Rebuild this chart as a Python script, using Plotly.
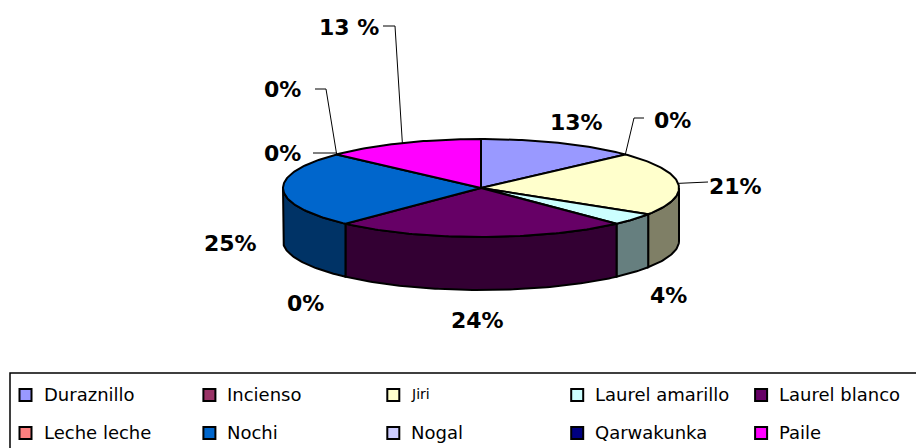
import numpy as np
import plotly.graph_objects as go

# ---------------- data ----------------
species = ["Duraznillo", "Incienso", "Jiri", "Laurel amarillo", "Laurel blanco",
           "Leche leche", "Nochi", "Nogal", "Qarwakunka", "Paile"]
percent = [13, 0, 21, 4, 24, 0, 25, 0, 0, 13]
label_text = ["13%", "0%", "21%", "4%", "24%", "0%", "25%", "0%", "0%", "13 %"]
top_colors = ["#9999FF", "#993366", "#FFFFCC", "#CCFFFF", "#660066",
              "#FF8080", "#0066CC", "#CCCCFF", "#000080", "#FF00FF"]

# ---------------- layout / style ----------------
W, H = 916, 448
CX, CY, RX, RY, DEPTH = 481, 188, 198, 49, 53
label_pos = [(576, 122), (672, 120), (735, 186), (668, 295), (477, 320),
             (305, 303), (230, 243), (282, 153), (282, 89), (349, 27)]
# leader line elbows (label side), None = no leader
leader_elbows = [None, [(644, 118), (634, 118)], [(708, 182)], None, None,
                 None, None, [(313, 153), (337, 153)], [(315, 89), (326, 89)],
                 [(383, 26), (395, 26)]]
LABEL_FONT = dict(family="DejaVu Sans", size=22, color="black", weight="bold")
LEG_FONT = dict(family="DejaVu Sans", size=18, color="black")


def darker(hexcol):
    h = hexcol.lstrip("#")
    r, g, b = (int(h[i:i + 2], 16) // 2 for i in (0, 2, 4))
    return f"#{r:02X}{g:02X}{b:02X}"


def rim(theta_deg, dy=0.0):
    t = np.radians(theta_deg)
    return CX + RX * np.sin(t), CY - RY * np.cos(t) + dy


total = float(sum(percent))
starts = np.concatenate([[0.0], np.cumsum(percent)[:-1]]) / total * 360.0
ends = np.cumsum(percent) / total * 360.0

fig = go.Figure()

# side walls (front half only)
for i, (a0, a1) in enumerate(zip(starts, ends)):
    if percent[i] == 0:
        continue
    s0, s1 = max(a0, 90.0), min(a1, 270.0)
    if s1 <= s0:
        continue
    th = np.linspace(s0, s1, int(s1 - s0) + 2)
    xt, yt = rim(th)
    xb, yb = rim(th[::-1], DEPTH)
    fig.add_trace(go.Scatter(
        x=np.concatenate([xt, xb, xt[:1]]), y=np.concatenate([yt, yb, yt[:1]]),
        mode="lines", fill="toself", fillcolor=darker(top_colors[i]),
        line=dict(color="black", width=2), hoverinfo="skip", showlegend=False))

# top faces
for i, (a0, a1) in enumerate(zip(starts, ends)):
    if percent[i] == 0:
        continue
    th = np.linspace(a0, a1, int(a1 - a0) + 2)
    xt, yt = rim(th)
    fig.add_trace(go.Scatter(
        x=np.concatenate([[CX], xt, [CX]]), y=np.concatenate([[CY], yt, [CY]]),
        mode="lines", fill="toself", fillcolor=top_colors[i],
        line=dict(color="black", width=2), hoverinfo="skip", showlegend=False,
        name=species[i]))

# leader lines + labels
for i in range(len(species)):
    mid = (starts[i] + ends[i]) / 2.0
    if leader_elbows[i] is not None:
        px, py = rim(mid)
        xs = [p[0] for p in leader_elbows[i]] + [px]
        ys = [p[1] for p in leader_elbows[i]] + [py]
        fig.add_trace(go.Scatter(x=xs, y=ys, mode="lines",
                                 line=dict(color="black", width=1),
                                 hoverinfo="skip", showlegend=False))
    fig.add_annotation(x=label_pos[i][0], y=label_pos[i][1], text=label_text[i],
                       showarrow=False, font=LABEL_FONT,
                       xanchor="center", yanchor="middle")

# legend (boxed, 2 rows x 5 columns)
fig.add_shape(type="rect", x0=10, y0=373, x1=W + 10, y1=H + 10,
              line=dict(color="black", width=1.5), fillcolor="white", layer="below")
col_x = [25.5 + c * 183.9 for c in range(5)]
row_y = [395, 433]
sw_x = [col_x[i % 5] for i in range(len(species))]
sw_y = [row_y[i // 5] for i in range(len(species))]
fig.add_trace(go.Scatter(x=sw_x, y=sw_y, mode="markers",
                         marker=dict(symbol="square", size=12, color=top_colors,
                                     line=dict(color="black", width=2)),
                         hoverinfo="skip", showlegend=False))
for i, name in enumerate(species):
    f = dict(LEG_FONT)
    if name == "Jiri":
        f["size"] = 14
    fig.add_annotation(x=sw_x[i] + 16, y=sw_y[i] - 1, text=name, showarrow=False,
                       font=f, xanchor="left", yanchor="middle")

fig.update_layout(
    width=W, height=H, margin=dict(l=0, r=0, t=0, b=0),
    paper_bgcolor="white", plot_bgcolor="white", showlegend=False,
    xaxis=dict(range=[0, W], visible=False, fixedrange=True),
    yaxis=dict(range=[H, 0], visible=False, fixedrange=True),
)
fig.write_html("out.html")
